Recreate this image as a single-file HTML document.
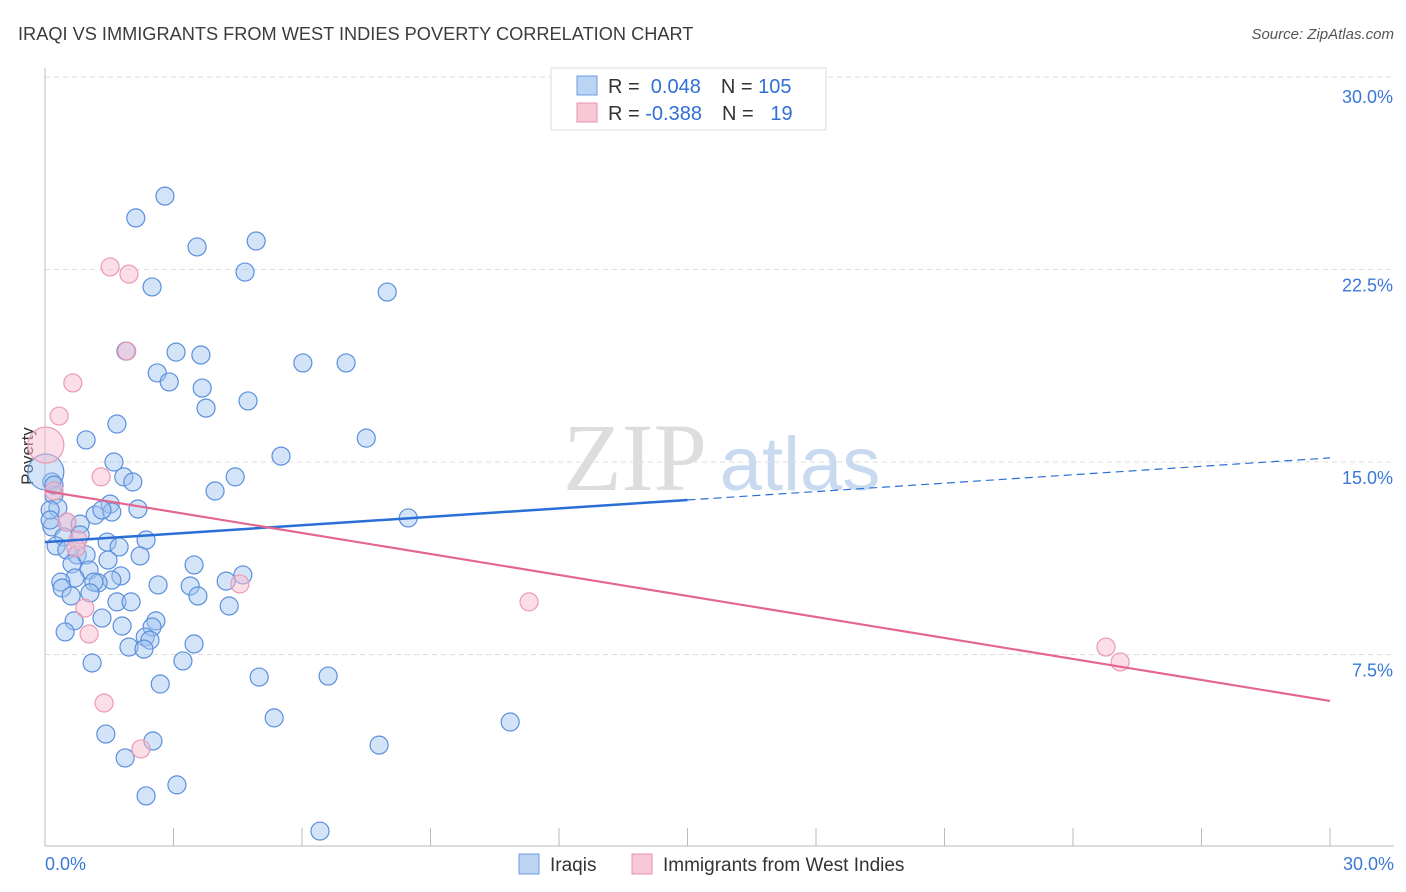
<!DOCTYPE html>
<html><head><meta charset="utf-8"><style>
body{margin:0;background:#fff;font-family:"Liberation Sans",sans-serif}
#wrap{position:relative;width:1406px;height:892px;overflow:hidden}
</style></head><body>
<div id="wrap">
<svg id="chart" width="1406" height="892" font-family="Liberation Sans, sans-serif">
<text x="18" y="40" font-size="18.2" fill="#3c3c3c">IRAQI VS IMMIGRANTS FROM WEST INDIES POVERTY CORRELATION CHART</text>
<text x="1394" y="39" font-size="15" fill="#555" text-anchor="end" font-style="italic">Source: ZipAtlas.com</text>
<text x="635" y="490" font-size="96" fill="#ddd" font-family="Liberation Serif, serif" text-anchor="middle">ZIP</text>
<text x="800" y="490" font-size="76" fill="#c9daf0" text-anchor="middle">atlas</text>
<text x="33" y="456" font-size="17" fill="#333" text-anchor="middle" transform="rotate(-90 33 456)">Poverty</text>
<g id="grid"></g><g id="pts"></g><g id="lines"></g>
<g>
<rect x="551" y="68" width="275" height="62" fill="#fff" stroke="#ddd"/>
<rect x="577" y="76" width="20" height="19" fill="#bcd4f4" stroke="#6b9be0"/>
<rect x="577" y="103" width="20" height="19" fill="#f9c8d6" stroke="#e890ac"/>
<text x="608" y="93" font-size="20" fill="#333">R = <tspan fill="#2f6fd6">&#160;0.048</tspan><tspan dx="20">N = </tspan><tspan fill="#2f6fd6">105</tspan></text>
<text x="608" y="120" font-size="20" fill="#333">R = <tspan fill="#2f6fd6">-0.388</tspan><tspan dx="20">N = </tspan><tspan fill="#2f6fd6">&#160;&#160;19</tspan></text>
</g>
<g>
<rect x="519" y="854" width="20" height="20" fill="#bcd4f4" stroke="#6b9be0"/>
<text x="550" y="871" font-size="19" fill="#333">Iraqis</text>
<rect x="632" y="854" width="20" height="20" fill="#f9c8d6" stroke="#e890ac"/>
<text x="663" y="871" font-size="19" fill="#333">Immigrants from West Indies</text>
</g>
</svg></div>
<script>
const blueX=[2.80,2.12,4.93,3.55,4.67,2.50,7.99,3.06,1.89,3.64,6.02,7.03,2.62,2.90,3.67,4.74,3.76,1.68,0.96,7.50,5.51,1.61,4.44,1.84,2.05,3.97,0.16,0.21,1.52,8.48,0.30,0.51,0.82,1.17,1.56,1.33,2.17,0.16,0.44,0.82,0.26,0.51,0.75,0.96,1.45,1.73,2.36,2.22,1.47,0.63,1.03,0.70,1.77,1.56,1.24,1.14,0.37,0.40,3.48,4.62,4.23,2.64,3.39,1.05,0.61,3.57,1.68,2.01,4.30,1.33,0.68,1.80,2.59,2.50,2.34,2.45,1.96,2.31,3.48,0.47,3.22,1.10,2.69,5.00,6.61,5.35,10.86,1.42,2.52,7.80,1.87,3.08,2.36,6.42,0.02,0.21,0.12,0.12];
const blueY=[25.36,24.51,23.61,23.38,22.40,21.82,21.62,19.28,19.32,19.17,18.86,18.86,18.47,18.12,17.88,17.38,17.10,16.48,15.86,15.93,15.23,15.00,14.42,14.42,14.22,13.87,14.22,13.71,13.36,12.82,13.21,12.66,12.58,12.93,13.05,13.13,13.17,12.47,12.08,12.16,11.73,11.57,11.38,11.38,11.88,11.69,11.96,11.34,11.18,11.03,10.79,10.48,10.56,10.40,10.29,10.32,10.32,10.09,10.99,10.60,10.36,10.21,10.17,9.90,9.78,9.78,9.55,9.55,9.39,8.92,8.81,8.61,8.81,8.57,8.18,8.06,7.79,7.71,7.91,8.38,7.25,7.17,6.35,6.62,6.66,5.03,4.87,4.40,4.13,3.97,3.47,2.42,1.99,0.62,14.61,14.10,13.13,12.74];
const blueR=blueX.map((v,i)=>i===94?18:9);
const pinkX=[1.52,1.96,1.91,0.65,0.33,0.02,1.31,0.21,0.51,0.77,0.72,4.55,11.30,0.93,1.03,1.38,2.24,24.77,25.10];
const pinkY=[22.60,22.32,19.32,18.08,16.79,15.66,14.42,13.87,12.66,11.96,11.65,10.25,9.55,9.31,8.30,5.61,3.82,7.79,7.21];
const pinkR=pinkX.map((v,i)=>i===5?18:9);
const yTicks=[7.5,15,22.5,30];
const yTickLabels=["7.5%","15.0%","22.5%","30.0%"];
const xTicks=[0,3,6,9,12,15,18,21,24,27,30];
const blueTrend=[11.88,15.16];
const pinkTrend=[13.87,5.69];
const sx=v=>45+v/30*1285;
const sy=v=>847-v/7.5*192.5;
const NS="http://www.w3.org/2000/svg";
function mk(p,t,a){const e=document.createElementNS(NS,t);for(const k in a)e.setAttribute(k,a[k]);p.appendChild(e);return e;}
const grid=document.getElementById('grid'),pts=document.getElementById('pts'),lines=document.getElementById('lines');
yTicks.forEach((v,i)=>{
 const l=mk(grid,'line',{x1:45,x2:1394,y1:sy(v),y2:sy(v),stroke:'#ddd','stroke-dasharray':'5,4'});
 
 
 const t=mk(grid,'text',{x:1393,y:sy(v)+22+(v===30?4:0),'font-size':18,fill:'#3a78d8','text-anchor':'end'});
 t.textContent=yTickLabels[i];
 
 
});
const ax=mk(grid,'line',{x1:45,x2:45,y1:68,y2:846,stroke:'#bbb'});


const bx=mk(grid,'line',{x1:45,x2:1394,y1:846,y2:846,stroke:'#bbb'});


xTicks.forEach(v=>{
 const t=mk(grid,'line',{x1:sx(v),x2:sx(v),y1:828,y2:846,stroke:'#bbb'});
 
 
});
const xl0=mk(grid,'text',{x:45,y:870,'font-size':18,fill:'#3a78d8'});xl0.textContent='0.0%';


const xl1=mk(grid,'text',{x:1394,y:870,'font-size':18,fill:'#3a78d8','text-anchor':'end'});xl1.textContent='30.0%';


blueX.forEach((v,i)=>{
 const c=mk(pts,'circle',{cx:sx(v),cy:sy(blueY[i]),r:blueR[i],fill:'rgba(160,195,240,0.45)',stroke:'#5b8fdc','stroke-width':1.2});
 
 
});
pinkX.forEach((v,i)=>{
 const c=mk(pts,'circle',{cx:sx(v),cy:sy(pinkY[i]),r:pinkR[i],fill:'rgba(248,190,208,0.5)',stroke:'#eb9ab4','stroke-width':1.2});
 
 
});
const bm=blueTrend[0]+(blueTrend[1]-blueTrend[0])/2;
const b1=mk(lines,'line',{x1:sx(0),y1:sy(blueTrend[0]),x2:sx(15),y2:sy(bm),stroke:'#2a6fd6','stroke-width':2.5});


const b2=mk(lines,'line',{x1:sx(15),y1:sy(bm),x2:sx(30),y2:sy(blueTrend[1]),stroke:'#2a6fd6','stroke-width':1.2,'stroke-dasharray':'8,5'});


const p1=mk(lines,'line',{x1:sx(0),y1:sy(pinkTrend[0]),x2:sx(30),y2:sy(pinkTrend[1]),stroke:'#e4668f','stroke-width':2.2});


</script>
</body></html>
